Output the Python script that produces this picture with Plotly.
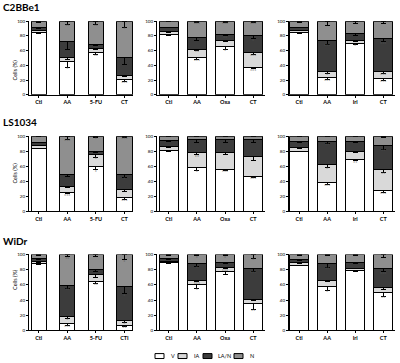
import plotly.graph_objects as go

cell_lines = ["C2BBe1", "LS1034", "WiDr"]
categories = [
    ["Ctl", "AA", "5-FU", "CT"], ["Ctl", "AA", "Oxa", "CT"], ["Ctl", "AA", "Iri", "CT"],
    ["Ctl", "AA", "5-FU", "CT"], ["Ctl", "AA", "Oxa", "CT"], ["Ctl", "AA", "Iri", "CT"],
    ["Ctl", "AA", "5-FU", "CTI"], ["Ctl", "AA", "Oxa", "CT"], ["Ctl", "AA", "Iri", "CT"],
]
series_names = ["V", "IA", "LA/N", "N"]
series_colors = ["#ffffff", "#d9d9d9", "#3c3c3c", "#8f8f8f"]

# values (%) per panel (row-major), per category
V = [[85, 45, 58, 21], [82, 50, 65, 37], [85, 23, 70, 22],
     [84, 25, 59, 18], [81, 58, 56, 46], [80, 38, 69, 27],
     [88, 9, 64, 7], [89, 60, 77, 35], [86, 58, 79, 50]]
IA = [[3, 5, 5, 5], [4, 12, 9, 20], [3, 8, 4, 9],
      [4, 8, 16, 11], [5, 20, 22, 27], [5, 24, 11, 28],
      [3, 9, 9, 6], [2, 6, 6, 6], [3, 8, 3, 6]]
LAN = [[3, 22, 6, 25], [6, 16, 8, 23], [4, 43, 9, 45],
       [4, 16, 5, 20], [8, 17, 17, 22], [8, 31, 13, 32],
       [4, 41, 7, 45], [4, 22, 7, 41], [4, 22, 8, 25]]
N = [[9, 28, 31, 49], [8, 22, 18, 20], [8, 26, 17, 24],
     [8, 51, 20, 51], [6, 5, 5, 5], [7, 7, 7, 13],
     [5, 41, 20, 42], [5, 12, 10, 18], [7, 12, 10, 19]]

# error (SEM, drawn downward from segment top)
V_err = [[2, 8, 3, 3], [2, 2, 3, 2], [2, 2, 2, 2],
         [1, 2, 4, 2], [1, 4, 2, 1], [1, 2, 2, 2],
         [1, 2, 2, 2], [1, 5, 3, 7], [1, 5, 2, 5]]
IA_err = [[1, 2, 2, 1], [1, 2, 2, 2], [1, 2, 1, 2],
          [1, 2, 3, 3], [1, 3, 3, 5], [1, 4, 2, 3],
          [1, 2, 3, 2], [1, 2, 2, 2], [1, 2, 1, 2]]
LAN_err = [[1, 10, 2, 10], [1, 4, 2, 4], [1, 5, 2, 4],
           [1, 3, 2, 4], [1, 3, 4, 4], [1, 3, 2, 5],
           [1, 4, 2, 10], [1, 4, 2, 4], [1, 5, 2, 4]]
N_err = [[2, 4, 4, 8], [1, 2, 2, 2], [2, 6, 3, 3],
         [1, 4, 2, 2], [1, 1, 1, 1], [1, 1, 1, 2],
         [1, 3, 3, 7], [1, 2, 2, 5], [1, 2, 2, 4]]

# significance marks
V_sig = [["", "*", "**", "***"], ["", "***", "*", "***"], ["", "***", "*", "***"],
         ["", "***", "*", "***"], ["", "*", "***", "***"], ["", "***", "**", "***"],
         ["", "***", "**", "**"], ["", "*", "", "**"], ["", "*", "", "**"]]
IA_sig = [["", "", "", ""], ["", "**", "", "***"], ["", "*", "", "***"],
          ["", "", "*", ""], ["", "**", "", ""], ["", "*", "", "**"],
          ["", "*", "", "*"], ["", "***", "***", ""], ["", "", "", ""]]
LAN_sig = [["", "", "", ""], ["", "", "**", "*"], ["", "***", "", "***"],
           ["", "", "", "*"], ["", "", "", ""], ["", "**", "", "**"],
           ["", "**", "", "*"], ["", "*", "", "***"], ["", "**", "", "***"]]
N_sig = [["", "**", "**", "*"], ["", "***", "***", "***"], ["", "", "", ""],
         ["", "***", "*", "***"], ["", "", "", ""], ["", "", "", ""],
         ["", "**", "", "*"], ["", "*", "*", "*"], ["", "", "", ""]]

W, H = 400, 363
FONT = "Lato"
col_px = [(29, 133), (157, 265), (289, 395)]
row_px = [(19.5, 94), (136, 212), (256, 333)]
col_range = [[-0.34, 3.3], [-0.42, 3.42], [-0.36, 3.42]]
col_barw = [0.53, 0.67, 0.66]

fig = go.Figure()
layout = dict(
    width=W, height=H, margin=dict(l=0, r=0, t=0, b=0),
    paper_bgcolor="white", plot_bgcolor="white",
    barmode="stack", showlegend=False,
    font=dict(family=FONT, color="black", size=5),
)
annotations = []
shapes = []

series_vals = [V, IA, LAN, N]
series_errs = [V_err, IA_err, LAN_err, N_err]
series_sigs = [V_sig, IA_sig, LAN_sig, N_sig]

for p in range(9):
    r, c = divmod(p, 3)
    sfx = "" if p == 0 else str(p + 1)
    xa, ya = "x" + sfx, "y" + sfx
    cats = list(range(4))
    cum = [0, 0, 0, 0]
    txt_x, txt_y, txt_s = [], [], []
    for s in range(4):
        vals = series_vals[s][p]
        errs = series_errs[s][p]
        fig.add_trace(go.Bar(
            x=cats, y=vals, xaxis=xa, yaxis=ya, name=series_names[s],
            width=col_barw[c],
            marker=dict(color=series_colors[s], line=dict(color="black", width=1)),
            error_y=dict(type="data", symmetric=False, array=[0] * 4, arrayminus=errs,
                         color="black", thickness=1, width=2.5),
        ))
        for k in range(4):
            cum[k] += vals[k]
            if series_sigs[s][p][k]:
                txt_x.append(k)
                txt_y.append(cum[k] - errs[k])
                txt_s.append(series_sigs[s][p][k])
    fig.add_trace(go.Scatter(
        x=txt_x, y=txt_y, text=txt_s, mode="text", xaxis=xa, yaxis=ya,
        textposition="bottom center",
        textfont=dict(size=5, color="#555555", family=FONT),
        hoverinfo="skip",
    ))
    x0, x1 = col_px[c]
    yt, yb = row_px[r]
    layout["xaxis" + sfx] = dict(
        domain=[x0 / W, x1 / W], anchor=ya, range=col_range[c],
        tickmode="array", tickvals=cats, ticktext=categories[p],
        showline=True, linecolor="black", linewidth=1,
        ticks="outside", ticklen=2, tickcolor="black", tickwidth=1,
        tickfont=dict(size=5.5, family=FONT, color="black", weight="bold"),
        showgrid=False, zeroline=False, fixedrange=True,
    )
    layout["yaxis" + sfx] = dict(
        domain=[1 - yb / H, 1 - yt / H], anchor=xa, range=[0, 100],
        tickvals=[0, 20, 40, 60, 80, 100],
        showline=True, linecolor="black", linewidth=1,
        ticks="outside", ticklen=2, tickcolor="black", tickwidth=1,
        tickfont=dict(size=4.5, family=FONT, color="black"),
        showgrid=False, zeroline=False, fixedrange=True,
    )
    if c == 0:
        annotations.append(dict(
            text="Cells (%)", textangle=-90, x=10 / W, y=1 - (yt + yb) / 2 / H,
            xref="paper", yref="paper", showarrow=False,
            font=dict(size=5.5, family=FONT, color="black"),
        ))

title_y = [5, 122, 242]
for r in range(3):
    annotations.append(dict(
        text="<b>" + cell_lines[r] + "</b>", x=1 / W, y=1 - title_y[r] / H,
        xref="paper", yref="paper", xanchor="left", yanchor="middle",
        showarrow=False, font=dict(size=10, family=FONT, color="black"),
    ))

# legend
leg_box_x = [155, 178, 203, 234]
leg_txt_x = [169, 192, 216, 248]
ly = 359
for i in range(4):
    shapes.append(dict(
        type="rect", xref="paper", yref="paper",
        x0=leg_box_x[i] / W, x1=(leg_box_x[i] + 9) / W,
        y0=1 - (ly + 2.5) / H, y1=1 - (ly - 2.5) / H,
        fillcolor=series_colors[i], line=dict(color="black", width=1),
    ))
    annotations.append(dict(
        text=series_names[i], x=leg_txt_x[i] / W, y=1 - ly / H,
        xref="paper", yref="paper", xanchor="left", yanchor="middle",
        showarrow=False, font=dict(size=5.5, family=FONT, color="black"),
    ))

layout["annotations"] = annotations
layout["shapes"] = shapes
fig.update_layout(**layout)
fig.write_html(
    "out.html",
    config={"displayModeBar": False},
    post_script="document.body.style.margin='0';document.body.style.padding='0';"
                "document.body.style.overflow='hidden';",
)
